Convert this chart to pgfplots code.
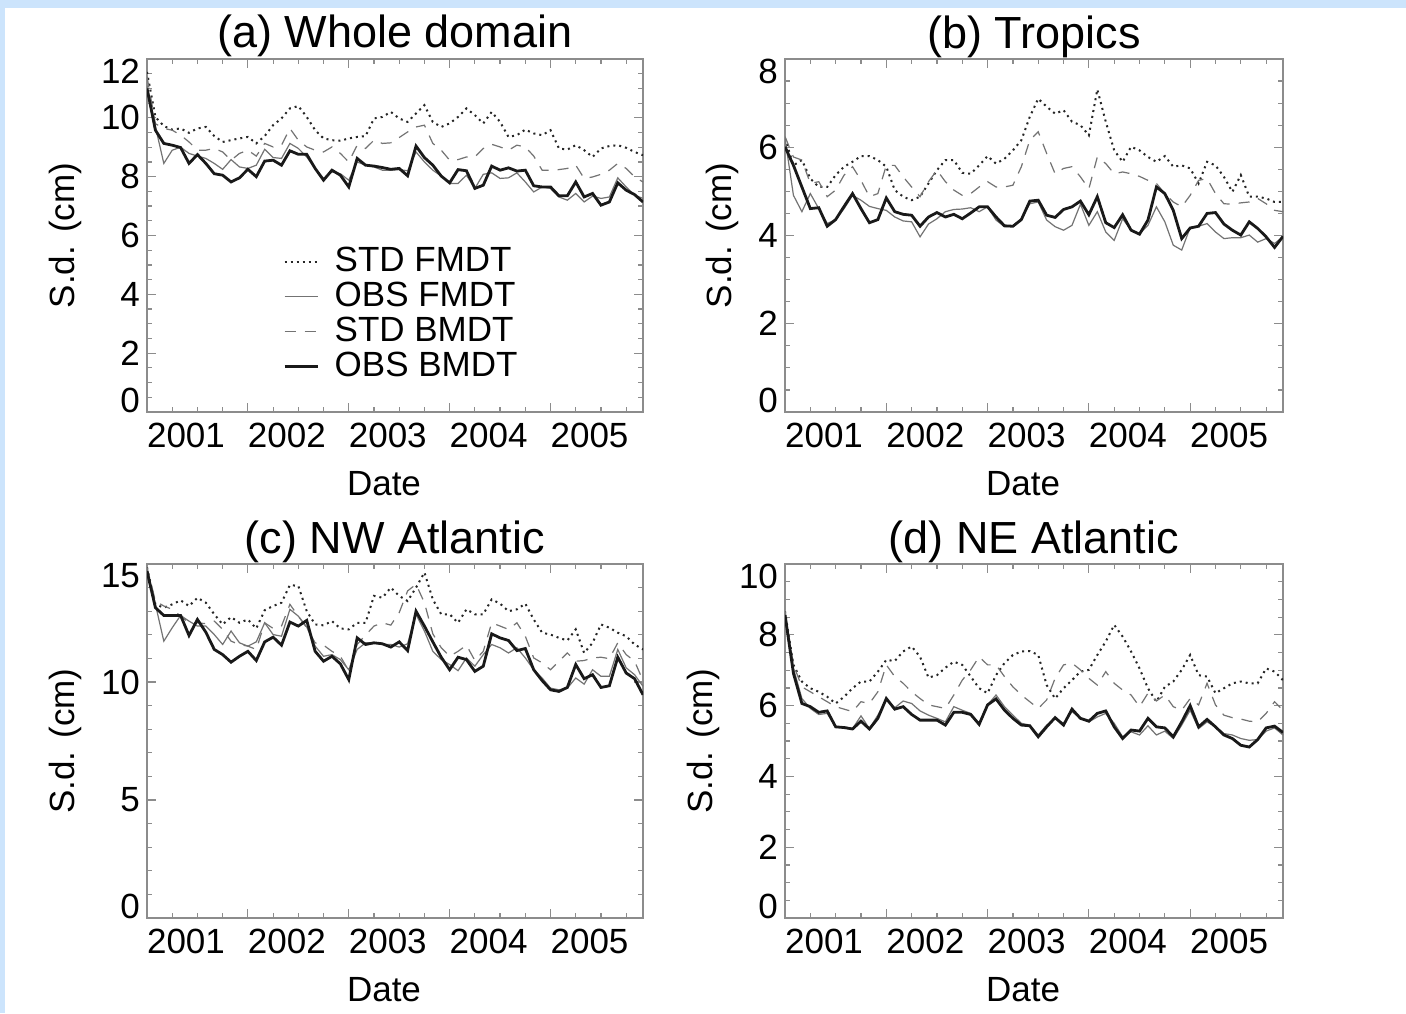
\documentclass[border=0pt]{standalone}
\usepackage{fontspec}
\setmainfont{Liberation Sans}
\usepackage{pgfplots}
\usepackage{pgfplotstable}
\pgfplotsset{compat=1.18}

\definecolor{frameblue}{RGB}{204,228,252}
\definecolor{axgray}{RGB}{140,140,140}
\newcommand{\ticksize}{\fontsize{17.5}{21}\selectfont}
\newcommand{\titlesize}{\fontsize{22.5}{27}\selectfont}
\newcommand{\up}[1]{\raisebox{6pt}[\height][\depth]{#1}}
\newcommand{\dn}[1]{\raisebox{-6pt}[\height][\depth]{#1}}

% columns: sf = STD FMDT, of = OBS FMDT, sb = STD BMDT, ob = OBS BMDT (monthly, Jan 2001 - Dec 2005)
\pgfplotstableread{
sf of sb ob
11.56 11.1 11.4 11.0
10.03 9.7 9.8 9.58
9.72 8.45 9.64 9.13
9.6 8.9 9.58 9.07
9.64 9.0 9.41 8.99
9.49 8.79 9.18 8.45
9.64 8.7 8.9 8.75
9.69 8.62 8.9 8.45
9.38 8.45 8.96 8.1
9.18 8.25 8.84 8.05
9.24 8.58 8.56 7.82
9.3 8.33 8.79 7.96
9.35 8.28 8.9 8.25
9.13 8.39 8.7 8.0
9.38 8.93 9.13 8.53
9.75 8.65 9.01 8.56
9.98 8.62 9.07 8.39
10.32 9.13 9.64 8.88
10.4 8.96 9.24 8.76
10.03 8.67 9.01 8.76
9.58 8.28 8.9 8.28
9.3 7.94 8.84 7.88
9.24 8.16 9.01 8.22
9.22 8.1 8.79 8.05
9.3 7.88 8.5 7.65
9.35 8.5 9.07 8.62
9.38 8.39 8.96 8.39
9.98 8.33 9.24 8.36
10.03 8.22 9.13 8.31
10.2 8.22 9.15 8.25
9.98 8.24 9.33 8.28
9.86 8.2 9.52 8.03
10.15 8.84 9.69 9.04
10.43 8.5 9.75 8.65
9.86 8.22 9.13 8.39
9.69 8.02 8.9 8.02
9.81 7.77 8.56 7.79
10.03 7.77 8.58 8.24
10.32 8.05 8.67 8.2
10.09 7.6 8.67 7.6
9.81 8.08 8.96 7.71
10.2 8.13 9.1 8.36
9.86 7.94 9.01 8.22
9.35 7.96 8.9 8.3
9.41 8.13 9.07 8.19
9.6 7.82 9.01 8.22
9.47 7.48 8.7 7.69
9.41 7.65 8.22 7.65
9.58 7.6 8.22 7.65
8.96 7.31 8.24 7.35
8.92 7.2 8.28 7.35
9.07 7.43 8.39 7.82
8.9 7.14 7.94 7.31
8.67 7.34 7.99 7.43
8.96 7.26 8.08 7.03
9.04 7.31 8.22 7.14
9.07 7.96 8.45 7.79
8.98 7.65 8.28 7.54
8.84 7.37 7.99 7.39
8.73 7.26 7.82 7.14
}\tabA

\pgfplotstableread{
sf of sb ob
6.2 6.2 6.24 6.01
5.59 4.91 5.78 5.59
5.71 4.54 5.71 5.1
5.29 4.95 5.18 4.61
5.1 4.61 5.22 4.63
5.1 4.27 4.88 4.21
5.37 4.36 5.03 4.36
5.56 4.61 5.37 4.66
5.67 4.91 5.56 4.95
5.8 4.8 5.25 4.61
5.8 4.66 4.88 4.29
5.71 4.61 4.95 4.36
5.56 4.57 5.59 4.85
5.03 4.42 5.59 4.54
4.88 4.33 5.33 4.48
4.8 4.31 5.1 4.46
4.88 3.97 4.88 4.21
5.18 4.26 5.22 4.42
5.48 4.38 5.48 4.52
5.71 4.54 5.22 4.42
5.71 4.59 5.03 4.48
5.42 4.6 4.91 4.38
5.4 4.63 4.95 4.51
5.59 4.54 5.1 4.65
5.8 4.65 5.22 4.65
5.63 4.35 5.1 4.42
5.74 4.2 5.1 4.22
5.93 4.21 5.14 4.21
6.16 4.38 5.56 4.36
6.69 4.72 6.16 4.78
7.1 4.76 6.35 4.8
6.92 4.35 5.86 4.46
6.76 4.2 5.4 4.41
6.84 4.12 5.52 4.59
6.58 4.23 5.56 4.65
6.5 4.71 5.33 4.78
6.27 4.23 5.06 4.47
7.31 4.54 5.78 4.88
6.58 4.08 5.63 4.29
5.93 3.89 5.4 4.18
5.67 4.38 5.44 4.47
6.01 4.12 5.4 4.12
5.93 4.04 5.34 4.03
5.78 4.23 5.25 4.35
5.67 4.65 5.18 5.1
5.8 4.31 4.95 4.95
5.56 3.78 4.76 4.57
5.59 3.67 4.65 3.93
5.52 4.18 4.91 4.17
5.18 4.21 5.25 4.21
5.67 4.27 5.29 4.5
5.59 4.08 4.95 4.52
5.33 3.93 4.72 4.26
4.99 3.95 4.71 4.12
5.37 3.95 4.74 4.01
4.88 4.01 4.76 4.31
4.88 3.85 4.84 4.16
4.84 3.93 4.72 3.97
4.76 3.82 4.57 3.73
4.76 3.97 4.54 3.98
}\tabB

\pgfplotstableread{
sf of sb ob
14.85 14.78 14.85 14.7
13.29 13.29 13.43 13.15
13.15 11.73 13.22 12.82
13.29 12.3 13.08 12.82
13.46 12.82 12.79 12.82
13.22 12.58 12.51 11.97
13.57 12.37 12.51 12.65
13.36 12.37 12.47 12.11
12.87 12.01 12.58 11.38
12.44 11.59 12.23 11.16
12.75 12.16 11.73 10.84
12.51 11.66 11.59 11.09
12.65 11.52 11.52 11.3
12.27 11.7 11.38 10.91
13.04 12.51 12.51 11.7
13.22 12.01 12.27 11.9
13.36 11.94 12.37 11.56
14.11 13.08 13.29 12.54
14.07 12.79 12.79 12.37
13.0 12.33 12.3 12.61
12.44 11.52 11.66 11.3
12.4 11.09 11.56 10.88
12.58 11.16 11.3 11.09
12.27 10.95 11.09 10.77
12.23 10.52 10.48 10.1
12.51 11.38 11.59 11.87
12.51 11.66 11.99 11.59
13.65 11.66 12.37 11.66
13.57 11.59 12.51 11.62
14.0 11.59 12.41 11.48
13.65 11.48 12.94 11.7
13.43 11.62 13.86 11.33
14.0 12.87 14.14 13.0
14.64 12.16 13.36 12.37
13.5 11.3 12.04 11.7
12.87 10.95 11.45 11.05
12.87 10.74 11.09 10.52
12.51 10.48 11.3 11.05
13.08 11.02 11.56 10.95
12.87 10.67 10.91 10.45
12.87 11.16 11.3 10.67
13.5 11.59 12.51 12.04
13.32 11.45 12.37 11.87
13.0 11.23 12.23 11.76
13.08 11.45 12.51 11.33
13.32 11.02 11.94 11.42
12.65 10.52 11.02 10.52
12.09 10.17 10.81 10.06
12.01 9.74 10.52 9.67
11.87 9.67 10.88 9.6
11.76 9.74 11.23 9.77
12.23 10.17 10.88 10.74
11.23 9.91 10.91 10.14
11.66 10.52 11.02 10.31
12.44 10.24 11.05 9.77
12.3 10.24 10.99 9.84
12.09 11.38 11.66 11.05
11.94 10.6 11.16 10.38
11.59 10.31 10.88 10.14
11.38 9.82 10.06 9.46
}\tabC

\pgfplotstableread{
sf of sb ob
8.66 8.66 8.66 8.56
7.15 7.05 7.15 6.91
6.68 6.2 6.53 6.06
6.49 5.92 6.39 5.97
6.39 5.75 6.25 5.81
6.25 5.78 6.11 5.85
6.06 5.4 5.97 5.4
6.25 5.4 5.9 5.38
6.49 5.35 5.83 5.34
6.68 5.71 6.11 5.56
6.68 5.35 6.06 5.34
6.96 5.73 6.39 5.64
7.29 6.16 7.15 6.2
7.26 5.94 6.82 5.9
7.53 6.13 6.63 5.97
7.67 6.06 6.39 5.75
7.38 5.85 6.2 5.59
6.79 5.73 6.02 5.59
6.86 5.64 5.97 5.59
7.07 5.54 5.92 5.45
7.24 5.97 6.3 5.81
7.15 5.87 6.72 5.81
6.82 5.78 7.01 5.75
6.49 5.5 7.38 5.47
6.35 6.02 7.15 6.02
6.86 6.3 7.15 6.19
7.2 5.97 6.82 5.87
7.43 5.73 6.53 5.64
7.53 5.5 6.3 5.45
7.54 5.45 6.11 5.43
7.43 5.17 5.92 5.12
6.58 5.45 6.16 5.4
6.2 5.64 6.77 5.66
6.49 5.5 7.15 5.45
6.72 5.83 7.2 5.9
6.96 5.64 7.01 5.64
7.01 5.54 6.77 5.56
7.43 5.68 6.58 5.78
7.81 5.78 6.96 5.85
8.28 5.5 6.63 5.4
7.95 5.12 6.44 5.07
7.53 5.26 6.3 5.31
7.05 5.17 5.97 5.28
6.49 5.43 6.35 5.64
6.11 5.17 6.13 5.4
6.53 5.28 6.3 5.37
6.68 5.07 5.97 5.12
7.01 5.45 5.87 5.54
7.43 5.87 6.2 6.0
6.86 5.35 6.02 5.4
6.82 5.54 6.63 5.61
6.35 5.4 6.02 5.4
6.49 5.21 5.73 5.17
6.63 5.17 5.66 5.07
6.68 5.07 5.62 4.88
6.63 5.02 5.56 4.83
6.63 5.04 5.54 5.04
7.05 5.28 5.78 5.37
6.96 5.37 6.11 5.42
6.72 5.17 5.87 5.24
}\tabD

\pgfplotsset{
  panel/.style={
    scale only axis, anchor=south west,
    xmin=0, xmax=59,
    xtick={0,12,24,36,48},
    xticklabels={2001,2002,2003,2004,2005},
    xticklabel style={anchor=north, xshift=19.5pt, yshift=-2pt},
    minor xtick={3,6,...,57},
    axis line style={axgray, line width=0.7pt},
    every tick/.style={axgray, line width=0.6pt},
    major tick length=4.5pt, minor tick length=2.5pt,
    tick label style={font=\ticksize, text=black},
    /pgf/number format/assume math mode=true,
    label style={font=\ticksize},
    every axis title shift=0pt,
    title style={font=\titlesize, at={(0.5,1)}, anchor=base, yshift=5.5pt},
    xlabel=Date, ylabel={S.d. (cm)},
    xlabel style={at={(rel axis cs:0.5,0)}, anchor=north, yshift=-26pt, xshift=-5.5pt},
    ylabel shift=3pt,
  },
  sfst/.style={black!85, line width=1pt, dash pattern=on 1pt off 2pt},
  ofst/.style={black!55, line width=0.6pt},
  sbst/.style={black!55, line width=0.6pt, dash pattern=on 5.5pt off 4.5pt},
  obst/.style={black!90, line width=1.4pt},
}

\begin{document}
\begin{tikzpicture}
\fill[frameblue] (0,0) rectangle (703pt,506.5pt);
\fill[white] (2.5pt,0) rectangle (703pt,502.5pt);

% (a)
\begin{axis}[panel, at={(73.5pt,300.5pt)}, width=248pt, height=176.5pt,
  title={(a) Whole domain},
  ymin=0, ymax=12, ytick={0,2,...,12},
  yticklabels={\up{0},2,4,6,8,10,\dn{12}},
  minor y tick num=3,
  legend style={draw=none, fill=none, at={(rel axis cs:0.274,0.476)}, anchor=north west,
    font=\ticksize, row sep=0pt, inner sep=0pt,
    nodes={inner sep=1pt, text height=12.5pt, text depth=3pt}},
  legend cell align=left,
  legend image code/.code={\draw[#1] (0pt,0pt) -- (16.5pt,0pt); \path[draw=none] (24pt,0pt) circle[radius=0pt];},
]
\addplot[sfst] table[x expr=\coordindex, y=sf] {\tabA};
\addplot[ofst] table[x expr=\coordindex, y=of] {\tabA};
\addplot[sbst] table[x expr=\coordindex, y=sb] {\tabA};
\addplot[obst] table[x expr=\coordindex, y=ob] {\tabA};
\legend{STD FMDT, OBS FMDT, STD BMDT, OBS BMDT}
\end{axis}

% (b)
\begin{axis}[panel, at={(392.5pt,300.5pt)}, width=249pt, height=176.5pt,
  title={(b) Tropics},
  ymin=0, ymax=8, ytick={0,2,...,8},
  yticklabels={\up{0},2,4,6,\dn{8}},
  minor y tick num=3,
]
\addplot[sfst] table[x expr=\coordindex, y=sf] {\tabB};
\addplot[ofst] table[x expr=\coordindex, y=of] {\tabB};
\addplot[sbst] table[x expr=\coordindex, y=sb] {\tabB};
\addplot[obst] table[x expr=\coordindex, y=ob] {\tabB};
\end{axis}

% (c)
\begin{axis}[panel, at={(73.5pt,47.5pt)}, width=248pt, height=177pt,
  title={(c) NW Atlantic},
  ymin=0, ymax=15, ytick={0,5,10,15},
  yticklabels={\up{0},5,10,\dn{15}},
  minor y tick num=4,
]
\addplot[sfst] table[x expr=\coordindex, y=sf] {\tabC};
\addplot[ofst] table[x expr=\coordindex, y=of] {\tabC};
\addplot[sbst] table[x expr=\coordindex, y=sb] {\tabC};
\addplot[obst] table[x expr=\coordindex, y=ob] {\tabC};
\end{axis}

% (d)
\begin{axis}[panel, at={(392.5pt,47.5pt)}, width=249pt, height=177pt,
  title={(d) NE Atlantic},
  ymin=0, ymax=10, ytick={0,2,...,10},
  yticklabels={\up{0},2,4,6,8,\dn{10}},
  minor y tick num=3,
]
\addplot[sfst] table[x expr=\coordindex, y=sf] {\tabD};
\addplot[ofst] table[x expr=\coordindex, y=of] {\tabD};
\addplot[sbst] table[x expr=\coordindex, y=sb] {\tabD};
\addplot[obst] table[x expr=\coordindex, y=ob] {\tabD};
\end{axis}

\pgfresetboundingbox
\useasboundingbox (0,0) rectangle (703pt,506.5pt);
\end{tikzpicture}
\end{document}
